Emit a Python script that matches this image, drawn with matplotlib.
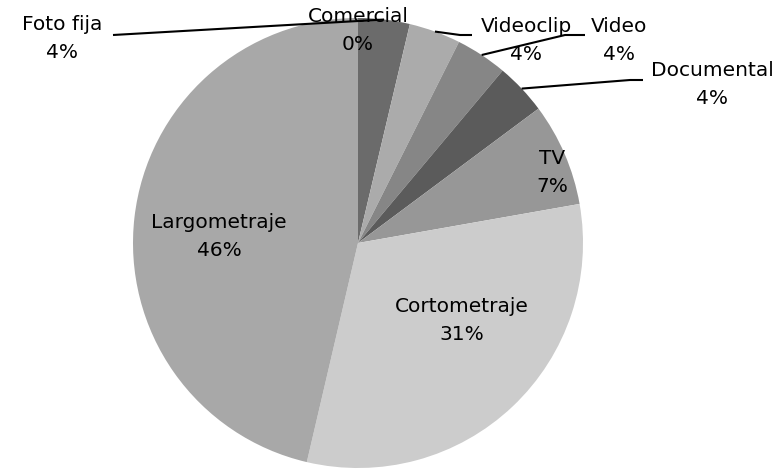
import numpy as np
import matplotlib
matplotlib.use('Agg')
import matplotlib.pyplot as plt

# slice data (clockwise from 12 o'clock)
categories = ['Foto fija', 'Comercial', 'Videoclip', 'Video', 'Documental',
              'TV', 'Cortometraje', 'Largometraje']
shares = [3.7, 0.0, 3.7, 3.7, 3.7, 7.4, 31.4, 46.3]
pct_labels = ['4%', '0%', '4%', '4%', '4%', '7%', '31%', '46%']
colors = ['#6b6b6b', '#ffffff', '#ababab', '#868686', '#5b5b5b',
          '#979797', '#cccccc', '#a8a8a8']

W, H = 778, 472
fig = plt.figure(figsize=(W / 100, H / 100), dpi=100)
ax = fig.add_axes([0, 0, 1, 1])

cx, cy, R = 358, 229, 225
wedges, _ = ax.pie(shares, colors=colors, startangle=90, counterclock=False,
                   center=(cx, cy), radius=R, frame=True,
                   wedgeprops=dict(linewidth=0))
ax.set_xlim(0, W)
ax.set_ylim(0, H)
ax.set_aspect('equal')
ax.axis('off')

# label centres in pixels (top-left origin) and optional leader paths
label_pos = {
    'Foto fija': (62, 39),
    'Comercial': (358, 31),
    'Videoclip': (526, 40),
    'Video': (619, 40),
    'Documental': (712, 85),
    'TV': (552, 172),
    'Cortometraje': (462, 320),
    'Largometraje': (219, 237),
}
leaders = {
    'Foto fija': [(113, 35)],
    'Videoclip': [(460, 35), (472, 35)],
    'Video': [(565, 35), (585, 35)],
    'Documental': [(630, 80), (643, 80)],
}

for name, w, pct in zip(categories, wedges, pct_labels):
    x, y = label_pos[name]
    ax.text(x, H - y, f'{name}\n{pct}', ha='center', va='center',
            fontsize=14.5, linespacing=1.6, color='black',
            family='DejaVu Sans')
    if name in leaders:
        mid = np.deg2rad((w.theta1 + w.theta2) / 2)
        x0 = cx + R * np.cos(mid)
        y0 = cy + R * np.sin(mid)
        xs = [x0] + [p[0] for p in leaders[name]]
        ys = [y0] + [H - p[1] for p in leaders[name]]
        ax.plot(xs, ys, color='black', linewidth=1.5, solid_capstyle='butt')

fig.savefig('out.png', dpi=100, facecolor='white')
